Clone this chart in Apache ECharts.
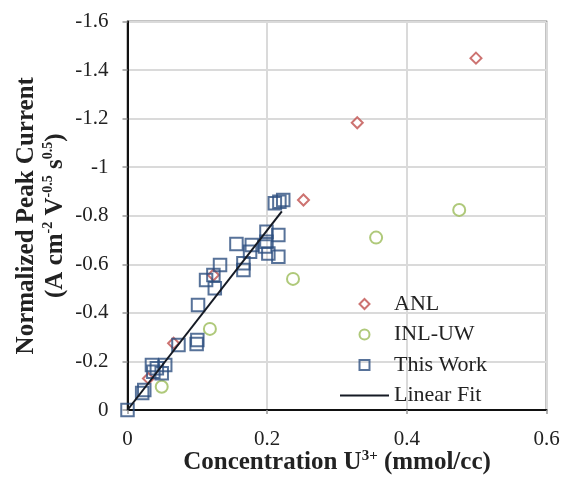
<!DOCTYPE html>
<html>
<head>
<meta charset="utf-8">
<script src="https://cdn.jsdelivr.net/npm/echarts@6/dist/echarts.min.js"></script>
<style>
  html, body { margin: 0; padding: 0; background: #fff; }
  #chart { width: 564px; height: 482px; }
</style>
</head>
<body>
<div id="chart"></div>
<script>
// Peak current vs. U3+ concentration, three data sources plus a linear fit
const anlData = [
  [0.030, -0.130], [0.066, -0.275], [0.123, -0.556],
  [0.252, -0.865], [0.329, -1.183], [0.499, -1.449]
];
const inlData = [
  [0.049, -0.096], [0.118, -0.334], [0.237, -0.540],
  [0.356, -0.710], [0.475, -0.824]
];
const thisWorkData = [
  [0.000, 0.000], [0.021, -0.070], [0.024, -0.082],
  [0.035, -0.185], [0.042, -0.172], [0.054, -0.185], [0.049, -0.151], [0.037, -0.158],
  [0.073, -0.268], [0.099, -0.272], [0.100, -0.288],
  [0.101, -0.432], [0.1125, -0.535], [0.123, -0.556], [0.125, -0.501], [0.1325, -0.597],
  [0.156, -0.684], [0.166, -0.604], [0.166, -0.577], [0.178, -0.680], [0.1755, -0.652],
  [0.199, -0.734], [0.199, -0.693], [0.197, -0.673], [0.2017, -0.645],
  [0.216, -0.721], [0.216, -0.631],
  [0.211, -0.851], [0.2175, -0.858], [0.223, -0.865]
];
const fitLine = [[0, 0], [0.221, -0.818]];

const xTickValues = [0, 0.2, 0.4, 0.6];
const xTickLabels = ['0', '0.2', '0.4', '0.6'];
const yTickValues = [-1.6, -1.4, -1.2, -1, -0.8, -0.6, -0.4, -0.2, 0];
const yTickLabels = ['-1.6', '-1.4', '-1.2', '-1', '-0.8', '-0.6', '-0.4', '-0.2', '0'];

const FONT = '"Liberation Serif", "Times New Roman", serif';

// legend glyphs as paths so they keep a square aspect inside a wide icon box
const ICON_DIAMOND = 'path://M5 0L10 5L5 10L0 5Z';
const ICON_CIRCLE = 'path://M5 0A5 5 0 1 1 5 10A5 5 0 1 1 5 0Z';
const ICON_SQUARE = 'path://M0 0H10V10H0Z';
const ICON_LINE = 'path://M0 0H49V2H0Z';

function lookup(values, labels) {
  return function (v) {
    const i = values.findIndex(t => Math.abs(t - v) < 1e-9);
    return i >= 0 ? labels[i] : '';
  };
}

const chart = echarts.init(document.getElementById('chart'), null, { renderer: 'canvas' });

chart.setOption({
  backgroundColor: '#ffffff',
  animation: false,
  textStyle: { fontFamily: FONT },
  grid: {
    left: 127.5, right: 17.5, top: 21.5, bottom: 72,
    outerBoundsMode: 'none', containLabel: false,
    show: true, borderColor: '#111', borderWidth: 1.5, backgroundColor: 'transparent'
  },
  xAxis: {
    type: 'value', min: 0, max: 0.6, interval: 0.2,
    axisLine: { show: true, onZero: false, lineStyle: { color: '#111', width: 2 } },
    axisTick: { show: true, inside: false, length: 4, lineStyle: { color: '#999', width: 1.5 } },
    axisLabel: {
      formatter: lookup(xTickValues, xTickLabels),
      color: '#222', fontFamily: FONT, fontSize: 21, margin: 19
    },
    splitLine: { show: true, lineStyle: { color: '#dadada', width: 2 } },
    name: '{b|Concentration U}{s|3+}{b| (mmol/cc)}',
    nameLocation: 'middle', nameGap: 39, nameMoveOverlap: false,
    nameTextStyle: {
      rich: {
        b: { fontFamily: FONT, fontWeight: 'bold', fontSize: 25, color: '#222', lineHeight: 28 },
        s: { fontFamily: FONT, fontWeight: 'bold', fontSize: 15, color: '#222', verticalAlign: 'top', lineHeight: 28 }
      }
    }
  },
  yAxis: {
    type: 'value', min: -1.6, max: 0, interval: 0.2, inverse: true,
    axisLine: { show: true, onZero: false, lineStyle: { color: '#111', width: 2 } },
    axisTick: { show: true, inside: false, length: 5, lineStyle: { color: '#999', width: 1.5 } },
    axisLabel: {
      formatter: lookup(yTickValues, yTickLabels),
      color: '#222', fontFamily: FONT, fontSize: 21, margin: 19
    },
    splitLine: { show: true, lineStyle: { color: '#dadada', width: 2 } },
    name: '{b|Normalized Peak Current}\n{b|(A cm}{s|-2}{b| V}{s|-0.5}{b| s}{s|0.5}{b|)}',
    nameLocation: 'middle', nameRotate: 90, nameGap: 57, nameMoveOverlap: false,
    nameTextStyle: {
      align: 'center',
      rich: {
        b: { fontFamily: FONT, fontWeight: 'bold', fontSize: 25, color: '#222', lineHeight: 29, align: 'center' },
        s: { fontFamily: FONT, fontWeight: 'bold', fontSize: 14, color: '#222', verticalAlign: 'top', lineHeight: 29 }
      }
    }
  },
  legend: {
    orient: 'vertical', left: 335, top: 288,
    itemWidth: 49, itemHeight: 10, itemGap: 8.5,
    symbolKeepAspect: true,
    textStyle: { fontFamily: FONT, fontSize: 22, lineHeight: 22, color: '#222' },
    data: [
      { name: 'ANL', icon: ICON_DIAMOND },
      { name: 'INL-UW', icon: ICON_CIRCLE },
      { name: 'This Work', icon: ICON_SQUARE },
      { name: 'Linear Fit', icon: ICON_LINE }
    ]
  },
  series: [
    {
      name: 'ANL', type: 'scatter', data: anlData,
      symbol: 'diamond', symbolSize: 11,
      itemStyle: { color: '#ffffff', borderColor: '#c0504d', borderWidth: 2 }
    },
    {
      name: 'INL-UW', type: 'scatter', data: inlData,
      symbol: 'circle', symbolSize: 12,
      itemStyle: { color: '#ffffff', borderColor: '#9bbb59', borderWidth: 2 }
    },
    {
      name: 'This Work', type: 'scatter', data: thisWorkData,
      symbol: 'rect', symbolSize: 12.5,
      itemStyle: { color: 'rgba(255,255,255,0)', borderColor: '#2d4f80', borderWidth: 2 }
    },
    {
      name: 'Linear Fit', type: 'line', data: fitLine,
      symbol: 'none', showSymbol: false,
      lineStyle: { color: '#151a24', width: 2 },
      itemStyle: { color: '#151a24' }
    }
  ]
});
</script>
</body>
</html>
